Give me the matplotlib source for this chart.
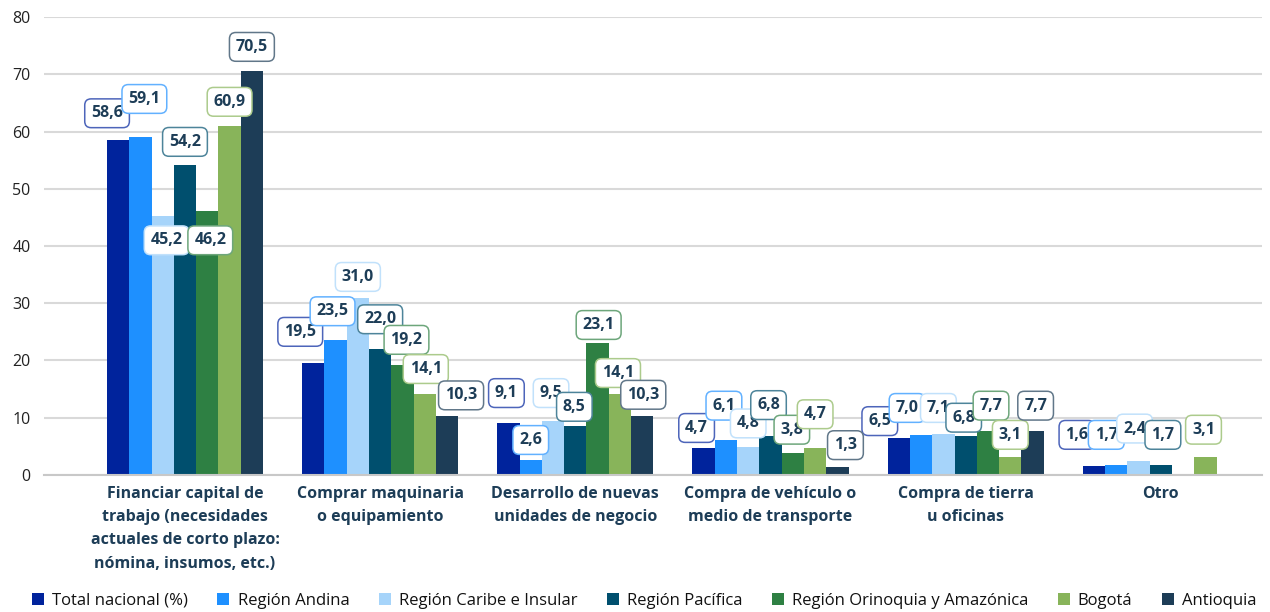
"""
Uso del crédito por región: barras agrupadas con etiquetas en recuadros.
"""

import matplotlib.pyplot as plt
import numpy as np
from matplotlib.colors import to_rgb

plt.rcParams["font.family"] = ["Open Sans", "DejaVu Sans"]

categories = [
    "Financiar capital de\ntrabajo (necesidades\nactuales de corto plazo:\nnómina, insumos, etc.)",
    "Comprar maquinaria\no equipamiento",
    "Desarrollo de nuevas\nunidades de negocio",
    "Compra de vehículo o\nmedio de transporte",
    "Compra de tierra\nu oficinas",
    "Otro",
]
series = [
    "Total nacional (%)",
    "Región Andina",
    "Región Caribe e Insular",
    "Región Pacífica",
    "Región Orinoquia y Amazónica",
    "Bogotá",
    "Antioquia",
]
# one list per series, one value per category (None = no data)
total_nacional = [58.6, 19.5, 9.1, 4.7, 6.5, 1.6]
region_andina = [59.1, 23.5, 2.6, 6.1, 7.0, 1.7]
region_caribe = [45.2, 31.0, 9.5, 4.8, 7.1, 2.4]
region_pacifica = [54.2, 22.0, 8.5, 6.8, 6.8, 1.7]
region_orinoquia = [46.2, 19.2, 23.1, 3.8, 7.7, None]
bogota = [60.9, 14.1, 14.1, 4.7, 3.1, 3.1]
antioquia = [70.5, 10.3, 10.3, 1.3, 7.7, None]
values = [total_nacional, region_andina, region_caribe, region_pacifica,
          region_orinoquia, bogota, antioquia]

colors = ["#00239c", "#1e90ff", "#a6d4fa", "#004f6e", "#2e8043", "#88b45a", "#1d3d57"]
text_color = "#1d3d57"

# label placement (y in data units, x shift in pixels) per series/category
label_y = [
    [63.2, 25.0, 14.3, 8.2, 9.4, 7.0],
    [65.7, 28.6, 6.1, 12.1, 11.7, 7.0],
    [41.0, 34.6, 14.3, 9.0, 11.7, 8.1],
    [58.2, 27.2, 11.9, 12.2, 10.0, 7.0],
    [41.0, 23.6, 26.2, 7.9, 12.1, 0],
    [65.2, 18.5, 17.8, 10.6, 7.0, 7.9],
    [74.8, 13.9, 14.0, 5.2, 12.1, 0],
]
label_dx = [
    [-11, -13, -2, -7, -19, -17],
    [4, -3, 0, -2, -14, -10],
    [4, 0, -2, 0, -5, -4],
    [0, 0, -1, -2, -2, 2],
    [3, 4, 1, -1, 3, 0],
    [0, 1, -2, 0, 0, -2],
    [0, 14, 1, 8, 3, 0],
]


def lighten(c, f):
    r, g, b = to_rgb(c)
    return (r + (1 - r) * f, g + (1 - g) * f, b + (1 - b) * f)


fig = plt.figure(figsize=(12.7, 6.12), dpi=100)
ax = fig.add_axes([0.035, 0.224, 0.959, 0.748])

n = len(series)
width = 0.8 / n
x = np.arange(len(categories))

for i, (name, vals) in enumerate(zip(series, values)):
    xs = x - 0.4 + width * (i + 0.5)
    heights = [v if v is not None else 0 for v in vals]
    ax.bar(xs, heights, width=width, color=colors[i], label=name, zorder=2)
    for j, v in enumerate(vals):
        if v is None:
            continue
        ax.annotate(
            f"{v:.1f}".replace(".", ","),
            xy=(xs[j], label_y[i][j]),
            xytext=(label_dx[i][j] * 0.72, 0),
            textcoords="offset points",
            ha="center", va="center",
            fontsize=11.5, fontweight="bold", color=text_color,
            bbox=dict(boxstyle="round,pad=0.4,rounding_size=0.4",
                      fc="white", ec=lighten(colors[i], 0.3), lw=1.1),
            zorder=3,
        )

ax.set_ylim(0, 80)
ax.set_xlim(-0.72, 5.52)
ax.set_yticks(range(0, 81, 10))
ax.yaxis.grid(True, color="#d9d9d9", lw=1.5, zorder=0)
ax.set_axisbelow(True)
ax.tick_params(axis="y", length=0, labelsize=11.5, labelcolor="#222222", pad=10)
ax.tick_params(axis="x", length=0, pad=8)
ax.set_xticks(x)
ax.set_xticklabels(categories, fontsize=11.5, fontweight="bold", color=text_color,
                   linespacing=1.6, va="top")
for s in ["top", "right", "left"]:
    ax.spines[s].set_visible(False)
ax.spines["bottom"].set_color("#c8c8c8")
ax.spines["bottom"].set_linewidth(1.5)

fig.legend(loc="center left", bbox_to_anchor=(0.0252, 0.018), ncol=n, frameon=False,
           fontsize=12, handlelength=0.72, handleheight=0.72, handletextpad=0.5,
           columnspacing=1.75, borderpad=0, borderaxespad=0, labelcolor="#111111")

fig.savefig("out.png", dpi=100)
